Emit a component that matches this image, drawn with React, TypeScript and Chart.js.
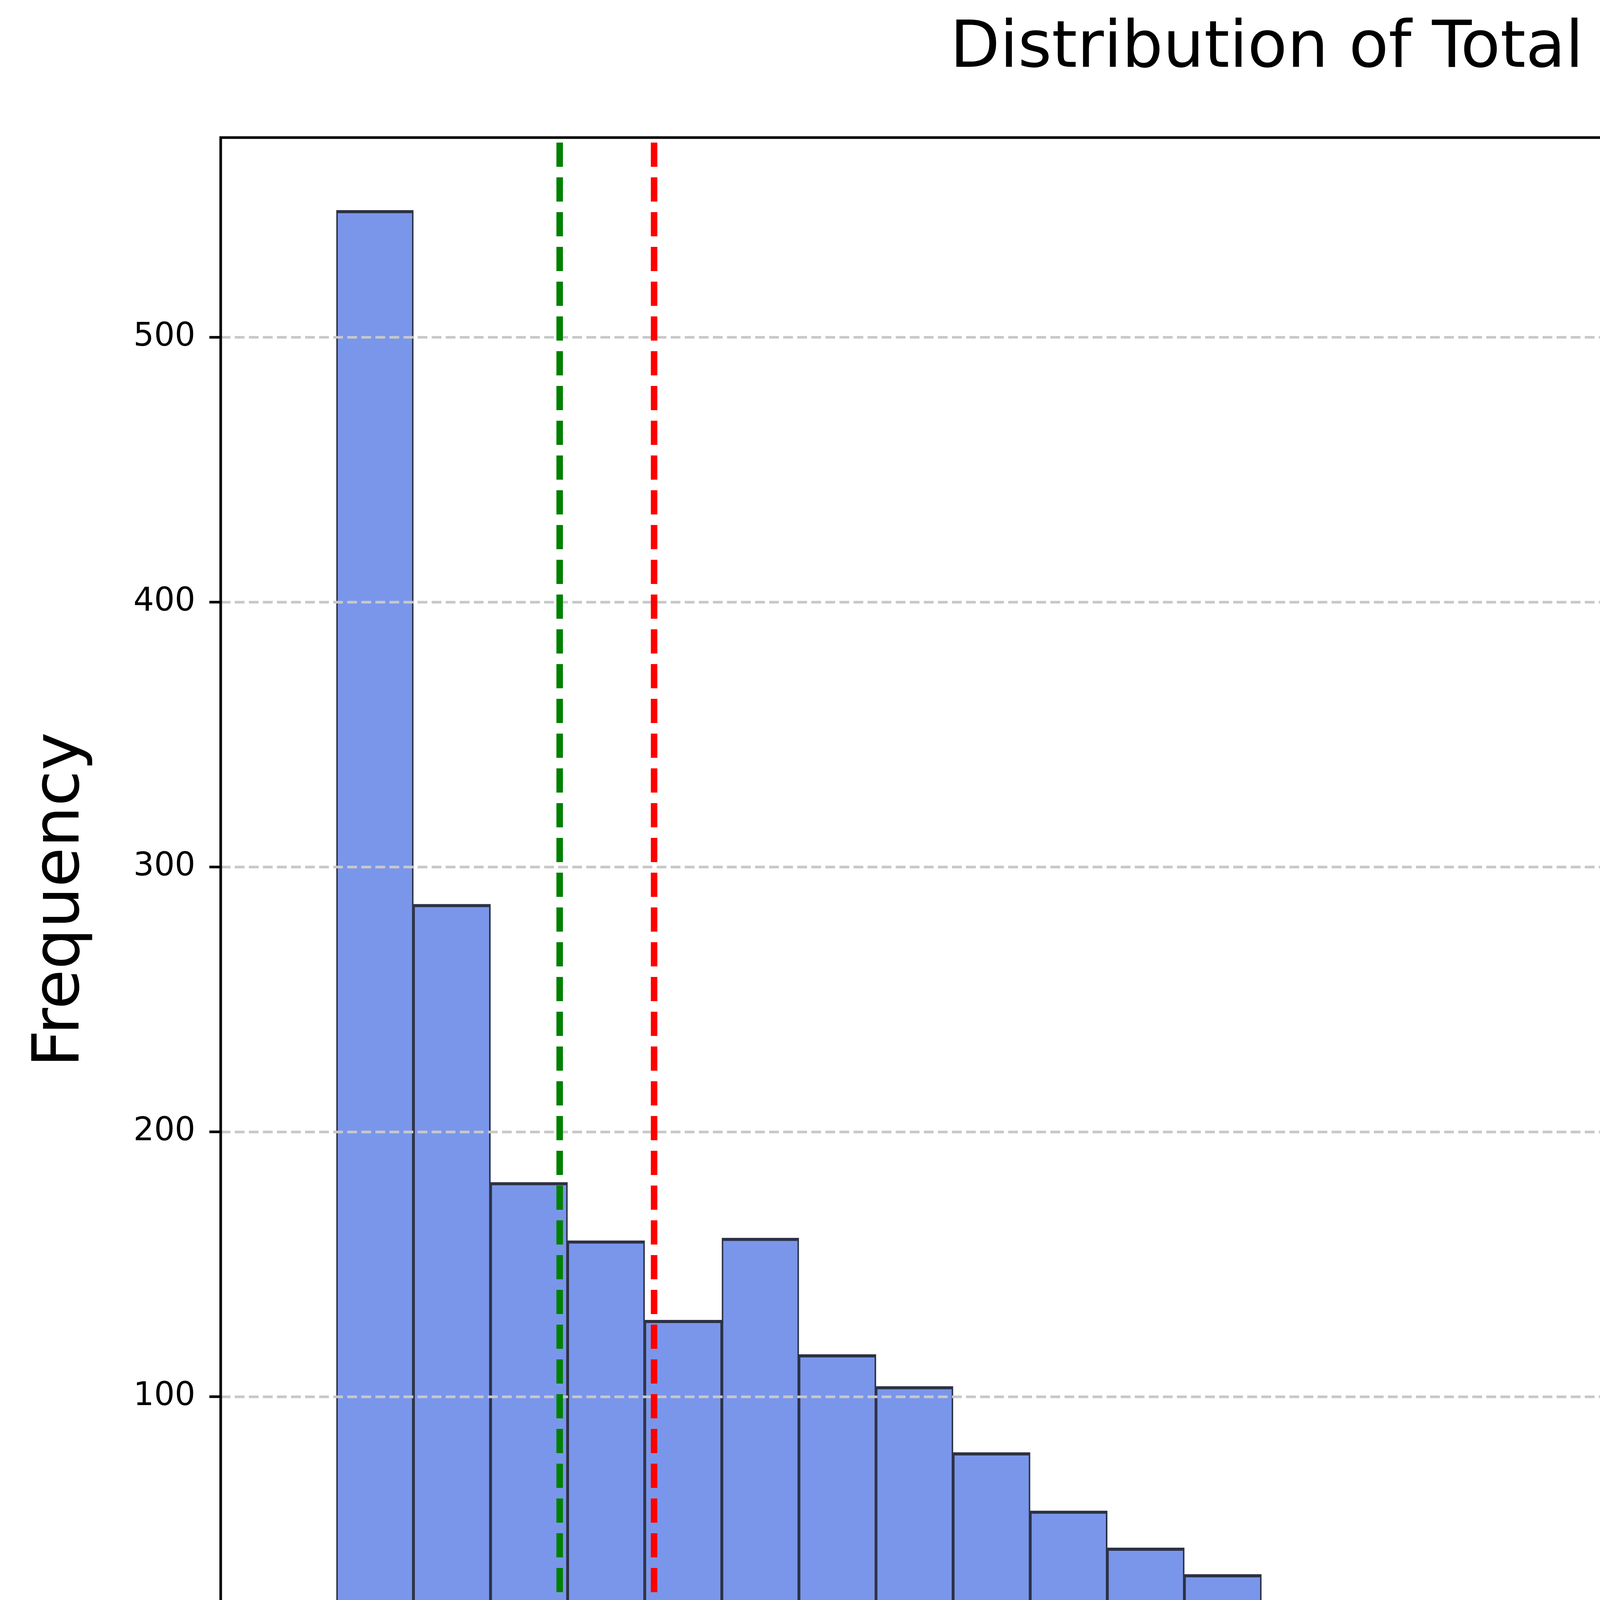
import { useEffect, useRef } from "react";
import { Chart, registerables } from "chart.js";

Chart.register(...registerables);

// histogram counts, 30 equal bins
const binCounts = [548, 286, 181, 159, 129, 160, 116, 104, 79, 57, 43, 33, 20, 21, 19, 10, 15, 9, 2, 2, 0, 1, 1, 1, 0, 1, 1, 0, 0, 1];
const binMin = 3;
const binMax = 904;
const meanValue = 126.78;
const medianValue = 90.0;
const xTicks = [0, 200, 400, 600, 800];
const yTicks = [0, 100, 200, 300, 400, 500];

const W = 7142;
const H = 4741;
const FONT = '"DejaVu Sans", sans-serif';
const BIG = 166;
const SMALL = 83;
const THIN = 6.7;

const binWidth = (binMax - binMin) / binCounts.length;
const xSpan = binMax - binMin;
const xMin = binMin - xSpan * 0.05;
const xMax = binMax + xSpan * 0.05;
const yMax = Math.max(...binCounts) * 1.05;

// y grid goes above the bars but under the mean/median lines (like matplotlib)
const gridOverlay = {
  id: "gridOverlay",
  afterDatasetDraw(chart: any, args: any) {
    if (args.meta.type !== "bar") return;
    const { ctx, chartArea } = chart;
    const y = chart.scales.y;
    ctx.save();
    ctx.strokeStyle = "#c8c8c8";
    ctx.lineWidth = THIN;
    ctx.setLineDash([25, 11]);
    yTicks.forEach((v) => {
      if (v === 0) return;
      const py = y.getPixelForValue(v);
      ctx.beginPath();
      ctx.moveTo(chartArea.left, py);
      ctx.lineTo(chartArea.right, py);
      ctx.stroke();
    });
    ctx.restore();
  },
};

const frameAndLegend = {
  id: "frameAndLegend",
  afterDraw(chart: any) {
    const { ctx, chartArea } = chart;
    ctx.save();
    ctx.strokeStyle = "#000";
    ctx.lineWidth = THIN;
    ctx.strokeRect(chartArea.left, chartArea.top, chartArea.right - chartArea.left, chartArea.bottom - chartArea.top);

    const bw = 1790;
    const bh = 540;
    const bx = chartArea.right - 80 - bw;
    const by = chartArea.top + 82;
    ctx.beginPath();
    ctx.roundRect(bx, by, bw, bh, 34);
    ctx.fillStyle = "rgba(255,255,255,0.8)";
    ctx.fill();
    ctx.lineWidth = 8;
    ctx.strokeStyle = "#b8b8b8";
    ctx.stroke();

    const entries = chart.data.datasets.filter((d: any) => d.type === "line");
    entries.forEach((d: any, i: number) => {
      const rowY = by + 136 + i * 245;
      ctx.beginPath();
      ctx.setLineDash([62, 27]);
      ctx.lineWidth = 16.7;
      ctx.strokeStyle = d.borderColor;
      ctx.moveTo(bx + 66, rowY);
      ctx.lineTo(bx + 393, rowY);
      ctx.stroke();
      ctx.setLineDash([]);
      ctx.fillStyle = "#000";
      ctx.font = `${BIG}px ${FONT}`;
      ctx.textBaseline = "alphabetic";
      ctx.textAlign = "left";
      ctx.fillText(d.label, bx + 548, rowY + 60);
    });
    ctx.restore();
  },
};

const TokenHistogram = () => {
  const canvasRef = useRef<HTMLCanvasElement>(null);

  useEffect(() => {
    if (!canvasRef.current) return;

    const chart = new Chart(canvasRef.current, {
      type: "bar",
      data: {
        datasets: [
          {
            type: "line",
            label: `Mean: ${meanValue.toFixed(2)}`,
            data: [{ x: meanValue, y: 0 }, { x: meanValue, y: yMax }],
            borderColor: "#ff0000",
            borderWidth: 16.7,
            borderDash: [62, 27],
            pointRadius: 0,
            fill: false,
            order: 0,
          },
          {
            type: "line",
            label: `Median: ${medianValue.toFixed(2)}`,
            data: [{ x: medianValue, y: 0 }, { x: medianValue, y: yMax }],
            borderColor: "#008000",
            borderWidth: 16.7,
            borderDash: [62, 27],
            pointRadius: 0,
            fill: false,
            order: 1,
          },
          {
            label: "Total tokens",
            data: binCounts.map((c, i) => ({ x: binMin + (i + 0.5) * binWidth, y: c })),
            backgroundColor: "#7a96ea",
            borderColor: "#2c3145",
            borderWidth: { top: 8, left: 4, right: 4, bottom: 0 },
            borderSkipped: false,
            barPercentage: 1,
            categoryPercentage: 1,
            order: 5,
          },
        ] as any,
      },
      options: {
        responsive: false,
        animation: false,
        events: [],
        layout: { padding: { left: 20, right: 64, top: 0, bottom: 20 } },
        plugins: {
          legend: { display: false },
          tooltip: { enabled: false },
          title: {
            display: true,
            fullSize: false,
            text: "Distribution of Total Tokens Count",
            color: "#000",
            font: { family: FONT, size: BIG, weight: "normal" },
            padding: { top: 28, bottom: 125 },
          },
        },
        scales: {
          x: {
            type: "linear",
            min: xMin,
            max: xMax,
            offset: false,
            afterBuildTicks: (scale: any) => {
              scale.ticks = xTicks.map((value) => ({ value }));
            },
            afterFit: (scale: any) => {
              scale.height = 467;
            },
            grid: {
              offset: false,
              drawOnChartArea: false,
              drawTicks: true,
              tickLength: 29,
              tickWidth: THIN,
              tickColor: "#000",
            },
            border: { display: false },
            ticks: {
              color: "#000",
              padding: 12,
              maxRotation: 0,
              font: { family: FONT, size: SMALL },
            },
            title: {
              display: true,
              text: "Number of tokens",
              color: "#000",
              font: { family: FONT, size: BIG },
              padding: { top: 0, bottom: 34 },
            },
          },
          y: {
            type: "linear",
            min: 0,
            max: yMax,
            afterBuildTicks: (scale: any) => {
              scale.ticks = yTicks.map((value) => ({ value }));
            },
            afterFit: (scale: any) => {
              scale.width = 545;
            },
            grid: {
              drawOnChartArea: false,
              drawTicks: true,
              tickLength: 29,
              tickWidth: THIN,
              tickColor: "#000",
            },
            border: { display: false },
            ticks: {
              color: "#000",
              padding: 36,
              font: { family: FONT, size: SMALL },
            },
            title: {
              display: true,
              text: "Frequency",
              color: "#000",
              font: { family: FONT, size: BIG },
              padding: { top: 38, bottom: 0 },
            },
          },
        },
      },
      plugins: [gridOverlay, frameAndLegend],
    });

    return () => chart.destroy();
  }, []);

  return (
    <div style={{ position: "fixed", left: 0, top: 0, width: W, height: H, background: "#fff" }}>
      <canvas ref={canvasRef} width={W} height={H} style={{ display: "block" }}></canvas>
    </div>
  );
};

export default function App() {
  return <TokenHistogram />;
}
